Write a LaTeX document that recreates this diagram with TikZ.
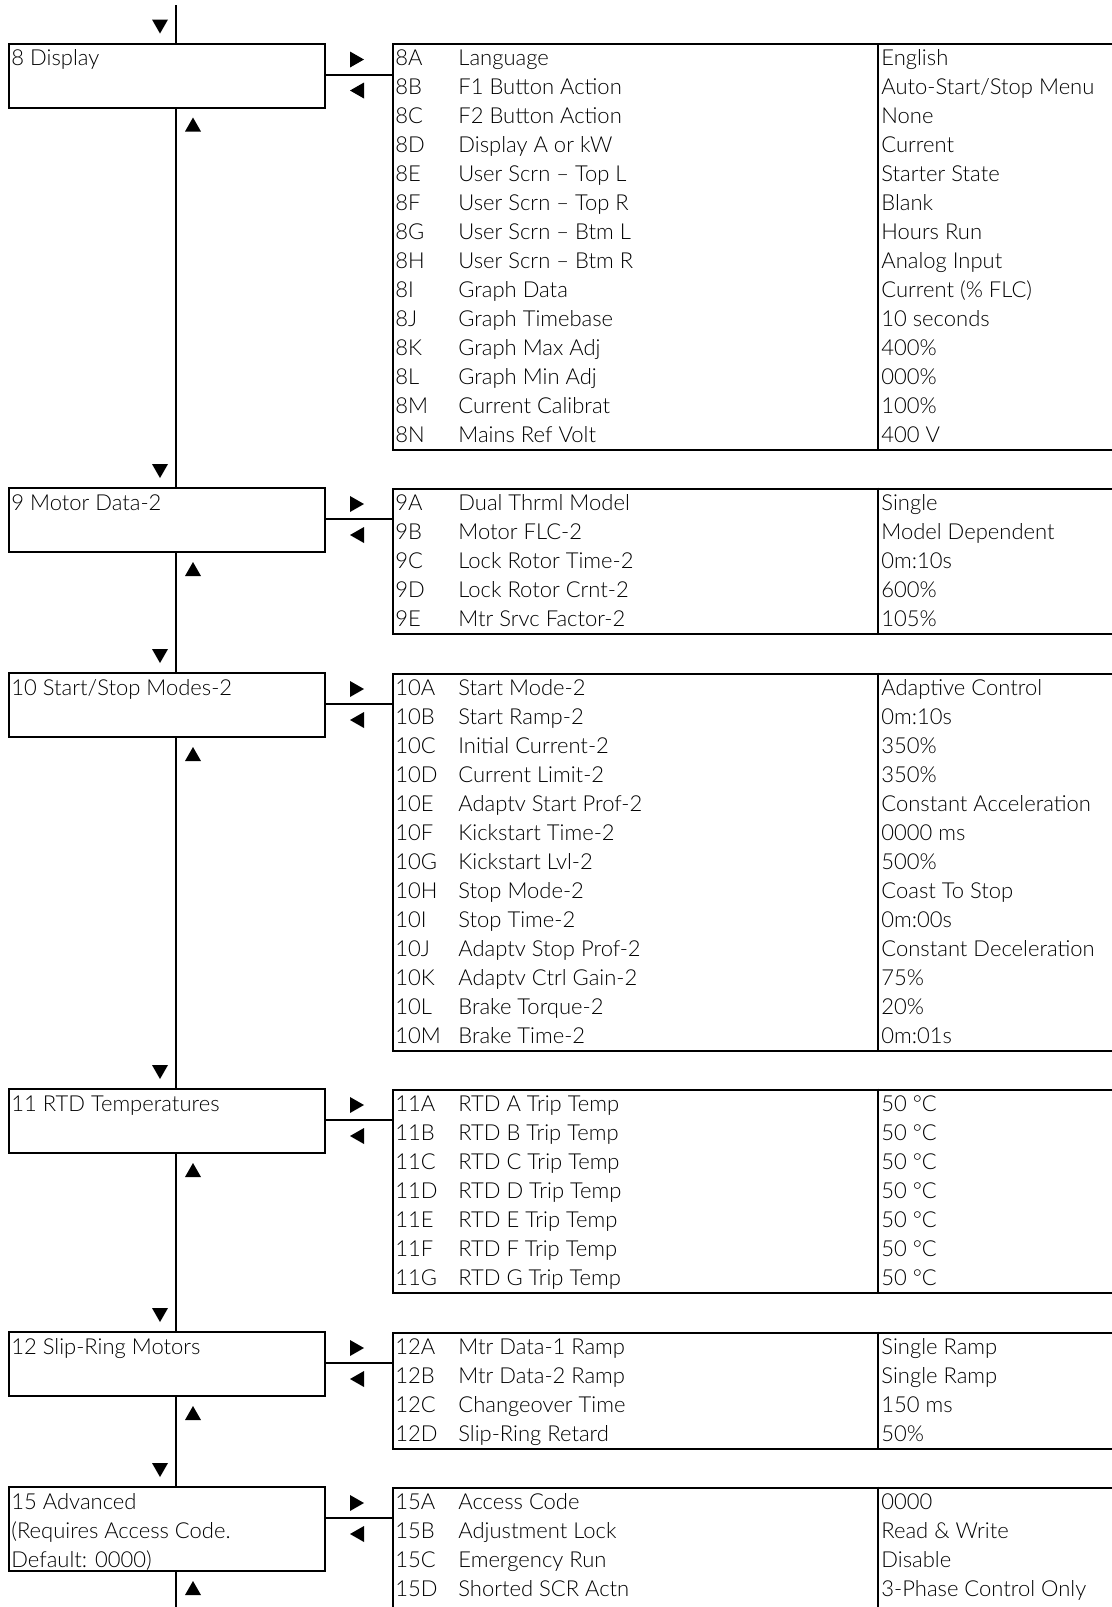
\documentclass[tikz,border=0pt]{standalone}
\usepackage{fontspec}
\setmainfont{Lato}[UprightFont={* Light}]
\tikzset{
  box/.style={draw, line width=1pt, rectangle, anchor=north west, inner sep=0pt, minimum width=158pt},
  tbl/.style={draw, line width=1pt, rectangle, anchor=north west, inner sep=0pt, minimum width=362pt},
  txt/.style={anchor=base west, inner sep=0pt, font=\fontsize{11}{13}\selectfont},
  conn/.style={line width=1pt},
  tri/.style={fill=black},
}
% #1 id, #2 table rows, #3 box height (px)
\newcommand\psec[3]{%
  \node[box, minimum height=#3*0.5pt] (b#1) at (8,0) {};
  \node[tbl, minimum height=#2*14.5pt] (t#1) at (392,0.5) {};
  \draw[conn] ([yshift=-16pt]b#1.north east) -- ([yshift=-16pt]b#1.north east -| t#1.west);
  \fill[tri] (160,-16) ++(-8,-7) -- ++(16,0) -- ++(-8,14) -- cycle;
  \fill[tri] (193,#3+18) ++(-8,7) -- ++(16,0) -- ++(-8,-14) -- cycle;
  \fill[tri] (357,17) ++(-7,-8) -- ++(0,16) -- ++(14,-8) -- cycle;
  \fill[tri] (357,48) ++(7,-8) -- ++(0,16) -- ++(-14,-8) -- cycle;
}
% #1 id, #2 line, #3 text
\newcommand\blab[3]{\node[txt] (l#1-#2) at (11,{(#2-1)*29+23}) {#3};}
% #1 id, #2 row, #3 code, #4 name, #5 value
\newcommand\prow[5]{%
  \node[txt] (c#1-#2) at (395,{(#2-1)*29+23}) {#3};
  \node[txt] (n#1-#2) at (458,{(#2-1)*29+23}) {#4};
  \node[txt] (v#1-#2) at (881,{(#2-1)*29+23}) {#5};
}
\begin{document}
\begin{tikzpicture}[x=0.5pt,y=-0.5pt]
\useasboundingbox (0,0) rectangle (1112,1607);
\coordinate (vx) at (176,0);
\coordinate (dx) at (878,0);
\coordinate (top) at (176,5);
\coordinate (bot) at (176,1620);

\begin{scope}[shift={(0,42.5)}]
\psec{8}{14}{64}
\blab{8}{1}{8 Display}
\prow{8}{1}{8A}{Language}{English}
\prow{8}{2}{8B}{F1 Button Action}{Auto-Start/Stop Menu}
\prow{8}{3}{8C}{F2 Button Action}{None}
\prow{8}{4}{8D}{Display A or kW}{Current}
\prow{8}{5}{8E}{User Scrn -- Top L}{Starter State}
\prow{8}{6}{8F}{User Scrn -- Top R}{Blank}
\prow{8}{7}{8G}{User Scrn -- Btm L}{Hours Run}
\prow{8}{8}{8H}{User Scrn -- Btm R}{Analog Input}
\prow{8}{9}{8I}{Graph Data}{Current (\% FLC)}
\prow{8}{10}{8J}{Graph Timebase}{10 seconds}
\prow{8}{11}{8K}{Graph Max Adj}{400\%}
\prow{8}{12}{8L}{Graph Min Adj}{000\%}
\prow{8}{13}{8M}{Current Calibrat}{100\%}
\prow{8}{14}{8N}{Mains Ref Volt}{400 V}
\end{scope}

\begin{scope}[shift={(0,487)}]
\psec{9}{5}{64}
\blab{9}{1}{9 Motor Data-2}
\prow{9}{1}{9A}{Dual Thrml Model}{Single}
\prow{9}{2}{9B}{Motor FLC-2}{Model Dependent}
\prow{9}{3}{9C}{Lock Rotor Time-2}{0m:10s}
\prow{9}{4}{9D}{Lock Rotor Crnt-2}{600\%}
\prow{9}{5}{9E}{Mtr Srvc Factor-2}{105\%}
\end{scope}

\begin{scope}[shift={(0,672)}]
\psec{10}{13}{64}
\blab{10}{1}{10 Start/Stop Modes-2}
\prow{10}{1}{10A}{Start Mode-2}{Adaptive Control}
\prow{10}{2}{10B}{Start Ramp-2}{0m:10s}
\prow{10}{3}{10C}{Initial Current-2}{350\%}
\prow{10}{4}{10D}{Current Limit-2}{350\%}
\prow{10}{5}{10E}{Adaptv Start Prof-2}{Constant Acceleration}
\prow{10}{6}{10F}{Kickstart Time-2}{0000 ms}
\prow{10}{7}{10G}{Kickstart Lvl-2}{500\%}
\prow{10}{8}{10H}{Stop Mode-2}{Coast To Stop}
\prow{10}{9}{10I}{Stop Time-2}{0m:00s}
\prow{10}{10}{10J}{Adaptv Stop Prof-2}{Constant Deceleration}
\prow{10}{11}{10K}{Adaptv Ctrl Gain-2}{75\%}
\prow{10}{12}{10L}{Brake Torque-2}{20\%}
\prow{10}{13}{10M}{Brake Time-2}{0m:01s}
\end{scope}

\begin{scope}[shift={(0,1088)}]
\psec{11}{7}{64}
\blab{11}{1}{11 RTD Temperatures}
\prow{11}{1}{11A}{RTD A Trip Temp}{50 °C}
\prow{11}{2}{11B}{RTD B Trip Temp}{50 °C}
\prow{11}{3}{11C}{RTD C Trip Temp}{50 °C}
\prow{11}{4}{11D}{RTD D Trip Temp}{50 °C}
\prow{11}{5}{11E}{RTD E Trip Temp}{50 °C}
\prow{11}{6}{11F}{RTD F Trip Temp}{50 °C}
\prow{11}{7}{11G}{RTD G Trip Temp}{50 °C}
\end{scope}

\begin{scope}[shift={(0,1331)}]
\psec{12}{4}{64}
\blab{12}{1}{12 Slip-Ring Motors}
\prow{12}{1}{12A}{Mtr Data-1 Ramp}{Single Ramp}
\prow{12}{2}{12B}{Mtr Data-2 Ramp}{Single Ramp}
\prow{12}{3}{12C}{Changeover Time}{150 ms}
\prow{12}{4}{12D}{Slip-Ring Retard}{50\%}
\end{scope}

\begin{scope}[shift={(0,1486)}]
\psec{15}{7}{84}
\blab{15}{1}{15 Advanced}
\blab{15}{2}{(Requires Access Code.}
\blab{15}{3}{Default: 0000)}
\prow{15}{1}{15A}{Access Code}{0000}
\prow{15}{2}{15B}{Adjustment Lock}{Read \& Write}
\prow{15}{3}{15C}{Emergency Run}{Disable}
\prow{15}{4}{15D}{Shorted SCR Actn}{3-Phase Control Only}
\end{scope}

% table column dividers
\foreach \s in {8,9,10,11,12,15}{
  \draw[conn] (t\s.north west -| dx) -- (t\s.south west -| dx);
}
% main vertical line
\draw[conn] (top) -- (b8.north -| vx);
\draw[conn] (b8.south -| vx) -- (b9.north -| vx);
\draw[conn] (b9.south -| vx) -- (b10.north -| vx);
\draw[conn] (b10.south -| vx) -- (b11.north -| vx);
\draw[conn] (b11.south -| vx) -- (b12.north -| vx);
\draw[conn] (b12.south -| vx) -- (b15.north -| vx);
\draw[conn] (b15.south -| vx) -- (bot);
\end{tikzpicture}
\end{document}
